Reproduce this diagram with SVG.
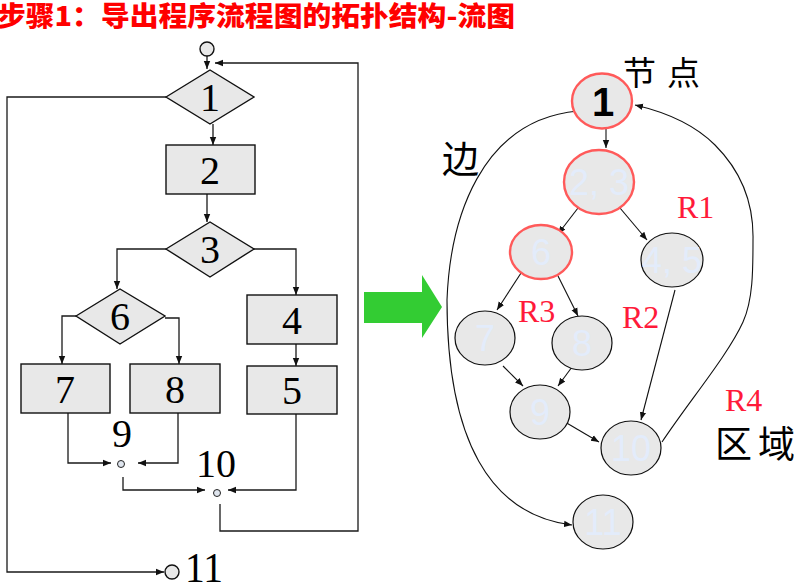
<svg xmlns="http://www.w3.org/2000/svg" width="794" height="588" viewBox="0 0 794 588">
<style>
.ln{fill:none;stroke:#1a1a1a;stroke-width:1.3}
.rl{fill:none;stroke:#111;stroke-width:1.1}
.box{fill:#e8e8e8;stroke:#111;stroke-width:1.4}
.dot{fill:#dfe5ee;stroke:#222;stroke-width:1}
.num{font-family:"Liberation Serif",serif;font-size:40px;fill:#000;text-anchor:middle}
.rn{fill:#e8e8e8;stroke:#ff5a5a;stroke-width:2.4}
.bn{fill:#e8e8e8;stroke:#111;stroke-width:1.2}
.lbl{font-family:"Liberation Sans",sans-serif;font-size:36px;fill:#e3ecfb;text-anchor:middle}
.reg{font-family:"Liberation Serif",serif;font-size:32px;fill:#ff1a3a}
.cjk{font-family:"Noto Sans CJK SC","Noto Sans CJK JP",sans-serif;fill:#000}
</style>
<defs>
<marker id="ah" viewBox="0 0 10 10" refX="10" refY="5" markerWidth="8" markerHeight="8" markerUnits="userSpaceOnUse" orient="auto"><path d="M0,1 L10,5 L0,9 z" fill="#111"/></marker>
</defs>
<rect width="794" height="588" fill="#fff"/>
<text x="-3" y="26" font-family="'Noto Sans CJK SC','Noto Sans CJK JP',sans-serif" font-size="27" font-weight="900" fill="#ff0000" textLength="518" lengthAdjust="spacingAndGlyphs">步骤1：导出程序流程图的拓扑结构-流图</text>

<g id="connectors">
<path class="ln" d="M207,56 L207,69" marker-end="url(#ah)"/>
<path class="ln" d="M220,504 L220,531 L358,531 L358,63 L215,63" marker-end="url(#ah)"/>
<path class="ln" d="M166,97 L7,97 L7,572 L164,572" marker-end="url(#ah)"/>
<path class="ln" d="M213,124 L213,145" marker-end="url(#ah)"/>
<path class="ln" d="M207,194 L207,222" marker-end="url(#ah)"/>
<path class="ln" d="M166,249 L117,249 L117,289" marker-end="url(#ah)"/>
<path class="ln" d="M254,249 L296,249 L296,295" marker-end="url(#ah)"/>
<path class="ln" d="M76,316 L62,316 L62,364" marker-end="url(#ah)"/>
<path class="ln" d="M165,318 L179,318 L179,364" marker-end="url(#ah)"/>
<path class="ln" d="M296,344 L296,366" marker-end="url(#ah)"/>
<path class="ln" d="M68,413 L68,463 L111,463" marker-end="url(#ah)"/>
<path class="ln" d="M178,413 L178,463 L138,463" marker-end="url(#ah)"/>
<path class="ln" d="M123,477 L123,490 L205,490" marker-end="url(#ah)"/>
<path class="ln" d="M296,414 L296,490 L228,490" marker-end="url(#ah)"/>

<path class="rl" d="M606,129 L606,148" marker-end="url(#ah)"/>
<path class="rl" d="M578,208 L558,234" marker-end="url(#ah)"/>
<path class="rl" d="M620,208 L647,240" marker-end="url(#ah)"/>
<path class="rl" d="M523,270 L497,310" marker-end="url(#ah)"/>
<path class="rl" d="M558,276 L578,316" marker-end="url(#ah)"/>
<path class="rl" d="M503,366 L523,386" marker-end="url(#ah)"/>
<path class="rl" d="M572,367 L558,386" marker-end="url(#ah)"/>
<path class="rl" d="M565,422 L599,442" marker-end="url(#ah)"/>
<path class="rl" d="M675,290 L641,420" marker-end="url(#ah)"/>
<path class="rl" d="M662,442 C690,400 728,355 743,322 C753,300 753,270 753,240 C754,195 735,165 715,145 C695,125 665,112 635,105" marker-end="url(#ah)"/>
<path class="rl" d="M578,111 C480,120 450,220 447,300 C447,440 490,515 572,525" marker-end="url(#ah)"/>
</g>

<g id="n1"><polygon class="box" points="166,97 210,70 254,97 210,124"/><text class="num" x="210" y="111">1</text></g>
<g id="n2"><rect class="box" x="166" y="145" width="89" height="49"/><text class="num" x="210" y="184">2</text></g>
<g id="n3"><polygon class="box" points="166,249 210,222 254,249 210,277"/><text class="num" x="210" y="263">3</text></g>
<g id="n6"><polygon class="box" points="76,316 120,289 165,316 120,344"/><text class="num" x="120" y="330">6</text></g>
<g id="n7"><rect class="box" x="21" y="364" width="89" height="49"/><text class="num" x="65" y="403">7</text></g>
<g id="n8"><rect class="box" x="130" y="364" width="90" height="49"/><text class="num" x="175" y="403">8</text></g>
<g id="n4"><rect class="box" x="247" y="295" width="90" height="49"/><text class="num" x="292" y="334">4</text></g>
<g id="n5"><rect class="box" x="247" y="366" width="90" height="48"/><text class="num" x="292" y="404">5</text></g>
<g id="start"><circle class="box" cx="207" cy="49" r="7" stroke-width="1.2"/></g>
<g id="n9"><circle class="dot" cx="121" cy="464" r="3.5"/><text class="num" x="122" y="447">9</text></g>
<g id="n10"><circle class="dot" cx="217" cy="493" r="3.5"/><text class="num" x="216" y="477">10</text></g>
<g id="n11"><circle class="box" cx="172" cy="572" r="7" stroke-width="1.2"/><text class="num" x="185" y="582" style="text-anchor:start;font-size:43px" textLength="38" lengthAdjust="spacingAndGlyphs">11</text></g>

<g id="green-arrow"><polygon points="364,292 422,292 422,275 442,307 422,338 422,323 364,323" fill="#33cc33"/></g>

<g id="g1"><ellipse class="rn" cx="602" cy="101" rx="30" ry="27.5"/><text x="603" y="116" font-family="'Liberation Sans',sans-serif" font-size="40" font-weight="bold" fill="#000" text-anchor="middle">1</text></g>
<g id="g23"><ellipse class="rn" cx="599" cy="182" rx="35" ry="32"/><text class="lbl" x="599" y="195">2, 3</text></g>
<g id="g6"><ellipse class="rn" cx="541" cy="252" rx="31" ry="27"/><text class="lbl" x="541" y="265">6</text></g>
<g id="g45"><ellipse class="bn" cx="672" cy="260" rx="31" ry="27"/><text class="lbl" x="672" y="273">4, 5</text></g>
<g id="g7"><ellipse class="bn" cx="485" cy="338" rx="30" ry="27"/><text class="lbl" x="485" y="351">7</text></g>
<g id="g8"><ellipse class="bn" cx="582" cy="343" rx="30" ry="27"/><text class="lbl" x="582" y="356">8</text></g>
<g id="g9"><ellipse class="bn" cx="540" cy="412" rx="30" ry="27"/><text class="lbl" x="540" y="425">9</text></g>
<g id="g10"><ellipse class="bn" cx="631" cy="448" rx="30" ry="27"/><text class="lbl" x="631" y="461">10</text></g>
<g id="g11"><ellipse class="bn" cx="603" cy="522" rx="30" ry="27"/><text class="lbl" x="603" y="535">11</text></g>

<g id="labels">
<text class="cjk" x="623" y="85" font-size="33" textLength="77" lengthAdjust="spacing">节点</text>
<text class="cjk" x="442" y="173" font-size="37">边</text>
<text class="cjk" x="715" y="458" font-size="37" textLength="80" lengthAdjust="spacing">区域</text>
<text class="reg" x="725" y="411">R4</text>
<text class="reg" x="677" y="218">R1</text>
<text class="reg" x="622" y="328">R2</text>
<text class="reg" x="518" y="322">R3</text>
</g>
</svg>
